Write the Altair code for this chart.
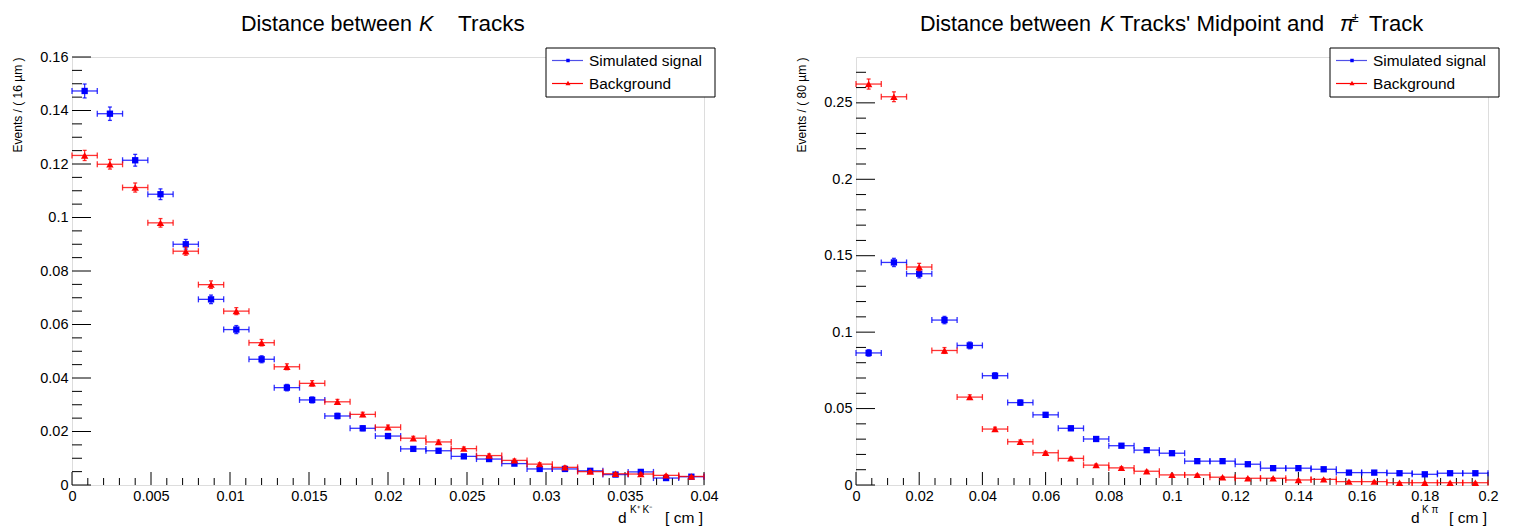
import altair as alt
import pandas as pd

FONT = "Liberation Sans"
BLUE = "#0000ff"
RED = "#ff0000"

# ---------------- data: left panel (16 um bins, 0..0.04 cm) ----------------
left_centers = [0.0008, 0.0024, 0.0040, 0.0056, 0.0072, 0.0088, 0.0104, 0.0120, 0.0136,
                0.0152, 0.0168, 0.0184, 0.0200, 0.0216, 0.0232, 0.0248, 0.0264, 0.0280,
                0.0296, 0.0312, 0.0328, 0.0344, 0.0360, 0.0376, 0.0392]
left_signal = [0.1473, 0.1388, 0.1214, 0.1087, 0.0900, 0.0694, 0.0581, 0.0470, 0.0364,
               0.0318, 0.0258, 0.0212, 0.0183, 0.0135, 0.0128, 0.0107, 0.0097, 0.0080,
               0.0060, 0.0060, 0.0053, 0.0039, 0.0049, 0.0026, 0.0031]
left_signal_err = [0.0026, 0.0025, 0.0022, 0.0020, 0.0018, 0.0016, 0.0015, 0.0013, 0.0012,
                   0.0011, 0.0010, 0.0009, 0.0009, 0.0008, 0.0007, 0.0007, 0.0006, 0.0006,
                   0.0005, 0.0005, 0.0005, 0.0004, 0.0005, 0.0004, 0.0004]
left_background = [0.1232, 0.1199, 0.1112, 0.0980, 0.0874, 0.0749, 0.0650, 0.0532, 0.0442,
                   0.0380, 0.0311, 0.0264, 0.0216, 0.0175, 0.0161, 0.0136, 0.0110, 0.0092,
                   0.0078, 0.0066, 0.0050, 0.0042, 0.0041, 0.0036, 0.0032]
left_background_err = [0.0019, 0.0018, 0.0017, 0.0016, 0.0015, 0.0014, 0.0013, 0.0012, 0.0011,
                       0.0010, 0.0009, 0.0008, 0.0008, 0.0007, 0.0007, 0.0006, 0.0006, 0.0005,
                       0.0005, 0.0005, 0.0004, 0.0004, 0.0004, 0.0003, 0.0003]
left_xmajor = [0, 0.005, 0.01, 0.015, 0.02, 0.025, 0.03, 0.035, 0.04]
left_xminor = [0.001, 0.002, 0.003, 0.004, 0.006, 0.007, 0.008, 0.009, 0.011, 0.012, 0.013,
               0.014, 0.016, 0.017, 0.018, 0.019, 0.021, 0.022, 0.023, 0.024, 0.026, 0.027,
               0.028, 0.029, 0.031, 0.032, 0.033, 0.034, 0.036, 0.037, 0.038, 0.039]
left_ymajor = [0, 0.02, 0.04, 0.06, 0.08, 0.1, 0.12, 0.14, 0.16]
left_yminor = [0.005, 0.01, 0.015, 0.025, 0.03, 0.035, 0.045, 0.05, 0.055, 0.065, 0.07,
               0.075, 0.085, 0.09, 0.095, 0.105, 0.11, 0.115, 0.125, 0.13, 0.135, 0.145,
               0.15, 0.155]

# ---------------- data: right panel (80 um bins, 0..0.2 cm) ----------------
right_centers = [0.004, 0.012, 0.020, 0.028, 0.036, 0.044, 0.052, 0.060, 0.068, 0.076,
                 0.084, 0.092, 0.100, 0.108, 0.116, 0.124, 0.132, 0.140, 0.148, 0.156,
                 0.164, 0.172, 0.180, 0.188, 0.196]
right_signal = [0.0864, 0.1456, 0.1382, 0.1079, 0.0913, 0.0715, 0.0539, 0.0459, 0.0371,
                0.0301, 0.0257, 0.0228, 0.0208, 0.0156, 0.0156, 0.0136, 0.0110, 0.0110,
                0.0103, 0.0081, 0.0081, 0.0077, 0.0070, 0.0077, 0.0077]
right_signal_err = [0.0021, 0.0027, 0.0027, 0.0024, 0.0022, 0.0019, 0.0017, 0.0015, 0.0014,
                    0.0012, 0.0011, 0.0011, 0.0010, 0.0009, 0.0009, 0.0008, 0.0007, 0.0007,
                    0.0007, 0.0006, 0.0006, 0.0006, 0.0006, 0.0006, 0.0006]
right_background = [0.2623, 0.2540, 0.1426, 0.0880, 0.0575, 0.0366, 0.0283, 0.0211, 0.0174,
                    0.0130, 0.0112, 0.0090, 0.0066, 0.0066, 0.0051, 0.0044, 0.0044, 0.0033,
                    0.0037, 0.0022, 0.0022, 0.0015, 0.0015, 0.0015, 0.0015]
right_background_err = [0.0033, 0.0032, 0.0024, 0.0019, 0.0015, 0.0012, 0.0011, 0.0009, 0.0008,
                        0.0007, 0.0007, 0.0006, 0.0005, 0.0005, 0.0004, 0.0004, 0.0004, 0.0003,
                        0.0004, 0.0003, 0.0003, 0.0002, 0.0002, 0.0002, 0.0002]
right_xmajor = [0, 0.02, 0.04, 0.06, 0.08, 0.1, 0.12, 0.14, 0.16, 0.18, 0.2]
right_xminor = [0.005, 0.01, 0.015, 0.025, 0.03, 0.035, 0.045, 0.05, 0.055, 0.065, 0.07,
                0.075, 0.085, 0.09, 0.095, 0.105, 0.11, 0.115, 0.125, 0.13, 0.135, 0.145,
                0.15, 0.155, 0.165, 0.17, 0.175, 0.185, 0.19, 0.195]
right_ymajor = [0, 0.05, 0.1, 0.15, 0.2, 0.25]
right_yminor = [0.01, 0.02, 0.03, 0.04, 0.06, 0.07, 0.08, 0.09, 0.11, 0.12, 0.13, 0.14,
                0.16, 0.17, 0.18, 0.19, 0.21, 0.22, 0.23, 0.24, 0.26, 0.27]

legend_labels = ["Simulated signal", "Background"]

# title pieces: (text, left x in plot px, italic, font size, baseline dy)
left_title = [("Distance between", 169, False, 21.5, 0), ("K", 347, True, 21.5, 0),
              ("Tracks", 386, False, 22.5, 0)]
right_title = [("Distance between", 64, False, 21.5, 0), ("K", 244, True, 21.5, 0),
               ("Tracks' Midpoint and", 264, False, 22.3, 0), ("π", 484, True, 21.5, 0),
               ("±", 496, False, 12, -9), ("Track", 513, False, 22, 0)]

W = 632
H = 428
TITLE_BASE = -26


def series_df(centers, vals, errs, half):
    return pd.DataFrame({
        "x": centers,
        "xlo": [c - half for c in centers],
        "xhi": [c + half for c in centers],
        "y": vals,
        "ylo": [v - e for v, e in zip(vals, errs)],
        "yhi": [v + e for v, e in zip(vals, errs)],
    })


def panel(title_parts, ytitle, centers, half, sig, sig_err, bkg, bkg_err, xmax, ymax,
          xmajor, xminor, ymajor, yminor, sup_text, d_x, sup_x):
    xscale = alt.Scale(domain=[0, xmax], nice=False, zero=False)
    yscale = alt.Scale(domain=[0, ymax], nice=False, zero=False)
    xaxis = alt.Axis(values=xmajor, format="~g", ticks=False, domain=False, grid=False,
                     labelFont=FONT, labelFontSize=14.5, labelColor="black", labelPadding=4,
                     labelFlush=False, title=None)
    yaxis = alt.Axis(values=ymajor, format="~g", ticks=False, domain=False, grid=False,
                     labelFont=FONT, labelFontSize=14.5, labelColor="black", labelPadding=4,
                     labelFlush=False, title=ytitle, titleAnchor="end", titleFont=FONT,
                     titleFontSize=12, titleFontWeight="normal", titleColor="black",
                     titlePadding=15)

    def X(f):
        return alt.X(f, type="quantitative", scale=xscale, axis=xaxis)

    def Y(f):
        return alt.Y(f, type="quantitative", scale=yscale, axis=yaxis)

    layers = []
    for vals, errs, color, shape, msize in [(sig, sig_err, BLUE, "square", 40),
                                            (bkg, bkg_err, RED, "triangle-up", 55)]:
        df = series_df(centers, vals, errs, half)
        base = alt.Chart(df)
        layers += [
            base.mark_rule(color=color, strokeWidth=1.3, opacity=0.8).encode(x=X("xlo"), x2="xhi", y=Y("y")),
            base.mark_point(shape="M0,-1L0,1", size=36, stroke=color, strokeWidth=1.3, filled=False,
                            opacity=0.8).encode(x=X("xlo"), y=Y("y")),
            base.mark_point(shape="M0,-1L0,1", size=36, stroke=color, strokeWidth=1.3, filled=False,
                            opacity=0.8).encode(x=X("xhi"), y=Y("y")),
            base.mark_rule(color=color, strokeWidth=1.3, opacity=0.8).encode(x=X("x"), y=Y("ylo"), y2="yhi"),
            base.mark_point(shape="M-1,0L1,0", size=16, stroke=color, strokeWidth=1.3, filled=False,
                            opacity=0.8).encode(x=X("x"), y=Y("ylo")),
            base.mark_point(shape="M-1,0L1,0", size=16, stroke=color, strokeWidth=1.3, filled=False,
                            opacity=0.8).encode(x=X("x"), y=Y("yhi")),
            base.mark_point(shape=shape, size=msize, filled=True, color=color, opacity=1,
                            strokeWidth=0).encode(x=X("x"), y=Y("y")),
        ]

    # inward ROOT-style ticks
    tick_layers = [
        alt.Chart(pd.DataFrame({"v": ymajor})).mark_rule(color="black", strokeWidth=1).encode(
            y=Y("v"), x=alt.value(0), x2=alt.value(19)),
        alt.Chart(pd.DataFrame({"v": yminor})).mark_rule(color="black", strokeWidth=1).encode(
            y=Y("v"), x=alt.value(0), x2=alt.value(10)),
        alt.Chart(pd.DataFrame({"v": xmajor})).mark_rule(color="black", strokeWidth=1).encode(
            x=X("v"), y=alt.value(H), y2=alt.value(H - 13)),
        alt.Chart(pd.DataFrame({"v": xminor})).mark_rule(color="black", strokeWidth=1).encode(
            x=X("v"), y=alt.value(H), y2=alt.value(H - 7)),
    ]

    one = pd.DataFrame({"a": [0]})
    # legend box
    lx0, lx1, ly0, ly1 = W - 158, W + 11, -9, 40
    leg = [
        alt.Chart(one).mark_rect(fill="white", stroke="black", strokeWidth=1).encode(
            x=alt.value(lx0), x2=alt.value(lx1), y=alt.value(ly0), y2=alt.value(ly1)),
        alt.Chart(one).mark_rule(color="#5050e8", strokeWidth=1.2).encode(
            x=alt.value(lx0 + 6), x2=alt.value(lx0 + 37), y=alt.value(3.5)),
        alt.Chart(one).mark_point(shape="square", size=12, filled=True, color=BLUE, opacity=1).encode(
            x=alt.value(lx0 + 22), y=alt.value(3.5)),
        alt.Chart(one).mark_text(text=legend_labels[0], align="left", baseline="middle", font=FONT,
                                 fontSize=15.4, color="black").encode(x=alt.value(lx0 + 43), y=alt.value(3.5)),
        alt.Chart(one).mark_rule(color=RED, strokeWidth=1.2).encode(
            x=alt.value(lx0 + 6), x2=alt.value(lx0 + 37), y=alt.value(26.5)),
        alt.Chart(one).mark_point(shape="triangle-up", size=25, filled=True, color=RED, opacity=1).encode(
            x=alt.value(lx0 + 22), y=alt.value(26)),
        alt.Chart(one).mark_text(text=legend_labels[1], align="left", baseline="middle", font=FONT,
                                 fontSize=15.4, color="black").encode(x=alt.value(lx0 + 43), y=alt.value(26.5)),
    ]

    # x-axis title  d^{...} [ cm ]
    xt = [
        alt.Chart(one).mark_text(text="d", align="left", baseline="alphabetic", font=FONT,
                                 fontSize=15.5, color="black").encode(x=alt.value(d_x), y=alt.value(H + 38)),
        alt.Chart(one).mark_text(text=sup_text, align="left", baseline="alphabetic", font=FONT,
                                 fontSize=10, color="black").encode(x=alt.value(sup_x), y=alt.value(H + 28)),
        alt.Chart(one).mark_text(text="[ cm ]", align="right", baseline="alphabetic", font=FONT,
                                 fontSize=15.5, color="black").encode(x=alt.value(W - 1), y=alt.value(H + 38)),
    ]

    # title made of pieces (italic K / pi)
    tt = []
    for txt, px, ital, fs, dy in title_parts:
        tt.append(alt.Chart(one).mark_text(text=txt, align="left", baseline="alphabetic", font=FONT,
                                           fontSize=fs, fontStyle="italic" if ital else "normal",
                                           color="black").encode(x=alt.value(px), y=alt.value(TITLE_BASE + dy)))

    return alt.layer(*tick_layers, *layers, *leg, *xt, *tt).properties(width=W, height=H)


left = panel(left_title, "Events / ( 16 µm )", left_centers, 0.0008,
             left_signal, left_signal_err, left_background, left_background_err,
             0.04, 0.16, left_xmajor, left_xminor, left_ymajor, left_yminor,
             "K⁺ K⁻", 546, 558)
right = panel(right_title, "Events / ( 80 µm )",
              right_centers, 0.004, right_signal, right_signal_err, right_background,
              right_background_err, 0.2, 0.28, right_xmajor, right_xminor, right_ymajor,
              right_yminor, "K π", 555, 566)

chart = alt.hconcat(left, right, spacing=152, bounds="flush").configure_view(
    stroke="black", strokeWidth=1
).configure(background="white", padding={"left": 3, "top": 3, "right": 5, "bottom": 5})

chart.save("out.html", embed_options={"renderer": "svg", "actions": False})
